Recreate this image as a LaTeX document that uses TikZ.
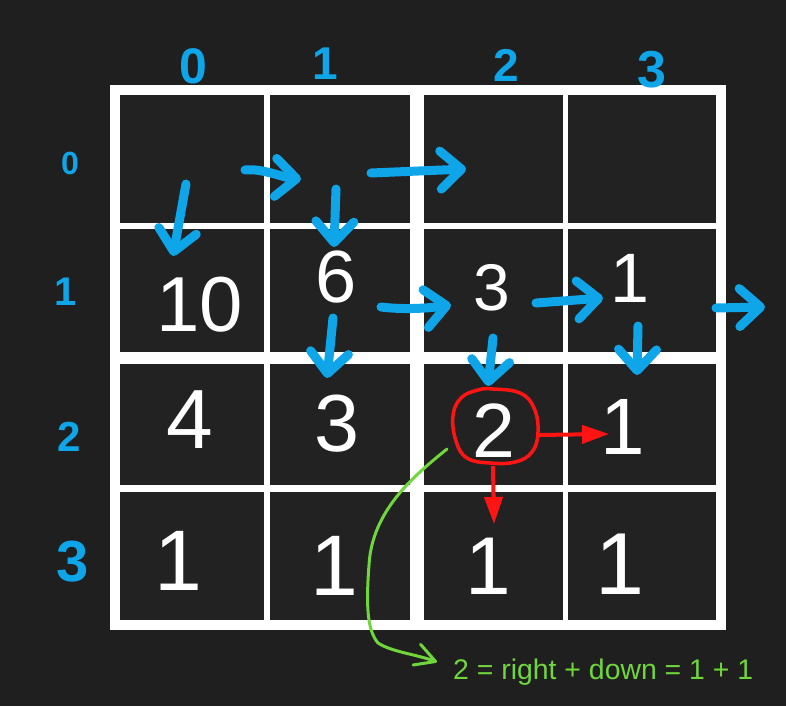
\documentclass[tikz,border=0pt]{standalone}
\usepackage{fontspec}
\setmainfont{Liberation Sans}
\usetikzlibrary{arrows.meta}
\definecolor{bg}{HTML}{1F1F1F}
\definecolor{cellbg}{HTML}{222222}
\definecolor{hblue}{HTML}{0EA5E9}
\definecolor{hred}{HTML}{FF1414}
\definecolor{hgreen}{HTML}{70D63C}
\begin{document}
\begin{tikzpicture}[x=1pt,y=-1pt,
  cellnum/.style={text=white, inner sep=0pt, font=\fontsize{#1}{#1}\selectfont},
  idxlabel/.style={text=hblue, inner sep=0pt, font=\fontsize{#1}{#1}\selectfont\bfseries},
  gridline/.style={draw=white, line width=#1},
  bluearrow/.style={draw=hblue, line width=9pt, line cap=round, line join=round,
    -{Straight Barb[length=21pt,width=38pt,round]}},
  redarrow/.style={draw=hred, line width=4pt, -{Triangle[length=27pt,width=18pt]}},
  redring/.style={draw=hred, line width=3.5pt, line join=round},
  greenarrow/.style={draw=hgreen, line width=3pt, line cap=round, line join=round,
    -{Straight Barb[length=20pt,width=22pt,round]}},
  note/.style={text=hgreen, inner sep=0pt, font=\fontsize{28.4}{32}\selectfont}
]
\fill[bg] (0,0) rectangle (786,706);
\useasboundingbox (0,0) rectangle (786,706);

% grid
\fill[cellbg] (115,90) rectangle (721,624.5);
\draw[gridline=6pt] (267,90) -- (267,624.5);
\draw[gridline=14pt] (417,90) -- (417,624.5);
\draw[gridline=5pt] (565.5,90) -- (565.5,624.5);
\draw[gridline=6pt] (115,226) -- (721,226);
\draw[gridline=12pt] (115,357.5) -- (721,357.5);
\draw[gridline=7pt] (115,488.5) -- (721,488.5);
\draw[gridline=10pt] (115,90) rectangle (721,624.5);

% column labels
\node[idxlabel=50] (c0) at (193,66) {0};
\node[idxlabel=46] (c1) at (325,64) {1};
\node[idxlabel=46] (c2) at (506,65) {2};
\node[idxlabel=52] (c3) at (652,70) {3};
% row labels
\node[idxlabel=32] (r0) at (70,163) {0};
\node[idxlabel=40] (r1) at (66,292) {1};
\node[idxlabel=42] (r2) at (69,437) {2};
\node[idxlabel=58] (r3) at (73,562) {3};

% cell values
\node[cellnum=78] (n10) at (200,305) {10};
\node[cellnum=74] (n11) at (336,277) {6};
\node[cellnum=66] (n12) at (492,288) {3};
\node[cellnum=70] (n13) at (630,278) {1};
\node[cellnum=84] (n20) at (190,420) {4};
\node[cellnum=81] (n21) at (337,424) {3};
\node[cellnum=77] (n22) at (494,431) {2};
\node[cellnum=80] (n23) at (623,427) {1};
\node[cellnum=86] (n30) at (178,561) {1};
\node[cellnum=86] (n31) at (334,566) {1};
\node[cellnum=82] (n32) at (488,566) {1};
\node[cellnum=88] (n33) at (620,564) {1};

% blue arrow end points
\coordinate (a1s) at (186,184); \coordinate (a1e) at (173,256);
\coordinate (a2s) at (245,170); \coordinate (a2e) at (301,179);
\coordinate (a3s) at (336,189); \coordinate (a3e) at (334,247);
\coordinate (a4s) at (371,173); \coordinate (a4e) at (466,169);
\coordinate (a5s) at (381,307); \coordinate (a5e) at (451,305);
\coordinate (a6s) at (333,318); \coordinate (a6e) at (327,378);
\coordinate (a7s) at (536,303); \coordinate (a7e) at (603,298);
\coordinate (a8s) at (493,338); \coordinate (a8e) at (488,386);
\coordinate (a9s) at (638,326); \coordinate (a9e) at (637,375);
\coordinate (a10s) at (716,308); \coordinate (a10e) at (765,307);

\draw[bluearrow] (a1s) -- (a1e);
\draw[bluearrow] (a2s) .. controls (262,168) and (285,178) .. (a2e);
\draw[bluearrow] (a3s) -- (a3e);
\draw[bluearrow] (a4s) -- (a4e);
\draw[bluearrow] (a5s) .. controls (405,310) and (430,308) .. (a5e);
\draw[bluearrow] (a6s) -- (a6e);
\draw[bluearrow] (a7s) -- (a7e);
\draw[bluearrow] (a8s) -- (a8e);
\draw[bluearrow] (a9s) -- (a9e);
\draw[bluearrow] (a10s) -- (a10e);

% red ring around 2 and red arrows
\draw[redring] plot[smooth cycle, tension=0.7] coordinates {
  (493,389) (520,393) (534,408) (538,432) (532,452) (515,462)
  (490,463) (467,458) (456,441) (453,416) (461,398) (478,390)};
\coordinate (rrs) at (538,435); \coordinate (rre) at (609,434);
\coordinate (rds) at (493,466); \coordinate (rde) at (494,524);
\draw[redarrow] (rrs) -- (rre);
\draw[redarrow] (rds) -- (rde);

% green explanation
\coordinate (gs) at (447,449);
\coordinate (gm) at (369,565);
\coordinate (gk) at (378,643);
\coordinate (ge) at (437,662);
\draw[greenarrow] (gs) .. controls (415,475) and (372,510) .. (gm)
  .. controls (366,605) and (367,630) .. (gk)
  .. controls (392,652) and (415,654) .. (ge);
\node[note, anchor=base west] (txt) at (453,679) {2 = right + down = 1 + 1};
\end{tikzpicture}
\end{document}
